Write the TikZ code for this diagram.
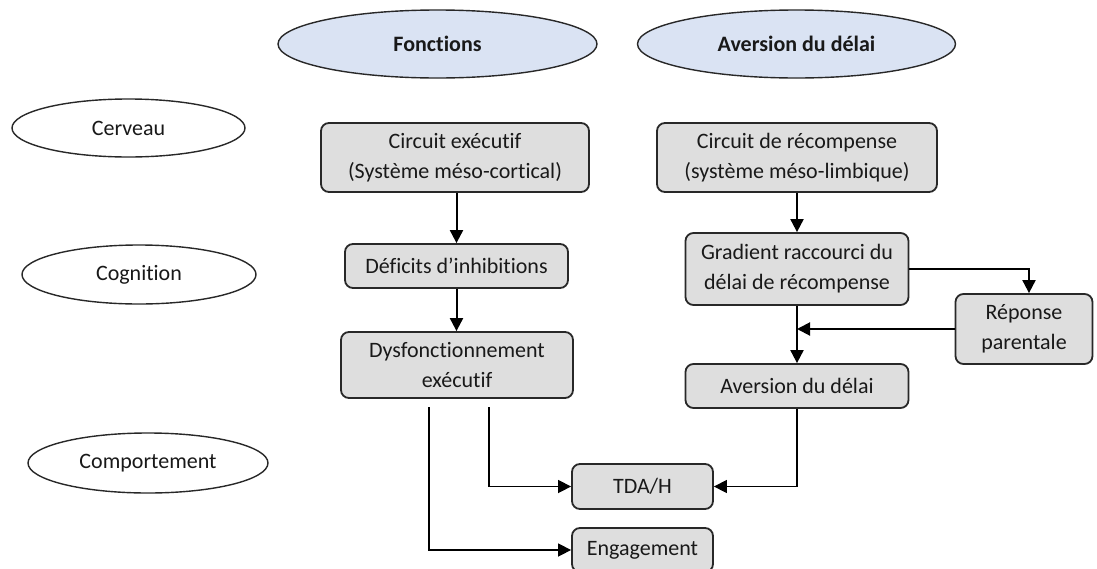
\documentclass[tikz,border=0pt]{standalone}
\usepackage{fontspec}
\setmainfont{Carlito}[Ligatures=NoCommon]
\usetikzlibrary{shapes.geometric,arrows.meta}

\definecolor{boxfill}{RGB}{222,222,222}
\definecolor{headfill}{RGB}{218,227,243}
\definecolor{edge}{RGB}{40,40,40}

\tikzset{
  txt/.style={font=\fontsize{22pt}{30pt}\selectfont, align=center, inner sep=0pt, text=black!90},
  level/.style={txt, ellipse, draw=edge, line width=1.4pt, fill=white},
  head/.style={level, fill=headfill, font=\fontsize{22pt}{30pt}\selectfont\bfseries},
  stepbox/.style={txt, rectangle, rounded corners=8pt, draw=edge, line width=1.8pt, fill=boxfill},
  flow/.style={line width=2pt, -{Triangle[length=13pt,width=13pt]}},
  thinflow/.style={line width=1.5pt, -{Triangle[length=13pt,width=13pt]}},
}

\begin{document}
\begin{tikzpicture}[x=1pt, y=-1pt]
  \useasboundingbox (0,0) rectangle (1097,568);

  % column headings
  \node[head, minimum width=319pt, minimum height=68pt] (fonc)  at (437.5,44) {Fonctions};
  \node[head, minimum width=318pt, minimum height=68pt] (avers) at (796.5,44) {Aversion du délai};

  % levels of analysis
  \node[level, minimum width=233pt, minimum height=58pt] (cerv) at (128.5,128) {Cerveau};
  \node[level, minimum width=234pt, minimum height=59pt] (cogn) at (139,274.5) {Cognition};
  \node[level, minimum width=240pt, minimum height=60pt] (comp) at (148,463) {Comportement};

  % executive pathway
  \node[stepbox, minimum width=268pt, minimum height=69pt] (ce)   at (455,157.5) {Circuit exécutif\\(Système méso-cortical)};
  \node[stepbox, minimum width=223pt, minimum height=44pt] (def)  at (456.5,266) {Déficits d’inhibitions};
  \node[stepbox, minimum width=232pt, minimum height=66pt] (dysf) at (457,365) {Dysfonctionnement\\exécutif};

  % reward pathway
  \node[stepbox, minimum width=280pt, minimum height=69pt] (cr)   at (797,157.5) {Circuit de récompense\\(système méso-limbique)};
  \node[stepbox, minimum width=223pt, minimum height=72pt] (grad) at (797,269) {Gradient raccourci du\\délai de récompense};
  \node[stepbox, minimum width=137pt, minimum height=70pt] (rep)  at (1024,329) {Réponse\\parentale};
  \node[stepbox, minimum width=223pt, minimum height=44pt] (av)   at (797,386) {Aversion du délai};

  % outcomes
  \node[stepbox, minimum width=141pt, minimum height=45pt] (tda) at (642.5,486.5) {TDA/H};
  \node[stepbox, minimum width=141pt, minimum height=44pt] (eng) at (642.5,550) {Engagement};

  % connectors
  \draw[flow] (def.north |- ce.south) -- (def.north);
  \draw[flow] (def.south) -- (def.south |- dysf.north);
  \draw[flow] (cr.south) -- (grad.north);
  \draw[flow] (grad.east) -| ([xshift=5pt]rep.north);
  \draw[flow] (grad.south) -- (av.north);
  \draw[flow] (rep.west) -- (grad.south |- rep.west);
  \draw[thinflow] (av.south) |- (tda.east);

  \coordinate (dA) at (489,407);
  \coordinate (dB) at (429,407);
  \draw[thinflow] (dA) |- (tda.west);
  \draw[thinflow] (dB) |- (eng.west);
\end{tikzpicture}
\end{document}
